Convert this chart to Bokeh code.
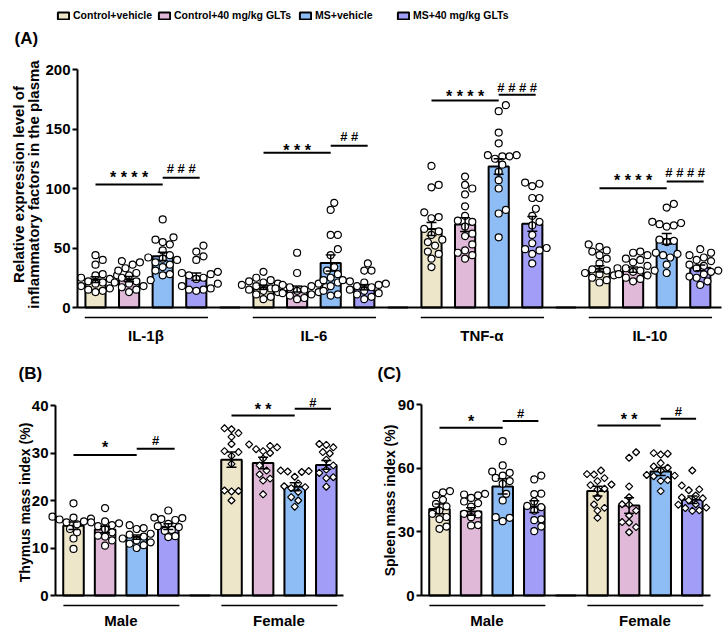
import math
from bokeh.plotting import figure
from bokeh.models import Range1d, FixedTicker, Label, Legend, LegendItem
from bokeh.layouts import column, row
from bokeh.embed import file_html
from bokeh.resources import INLINE
from bokeh.core.properties import value

# ---------------- data ----------------
TREATMENTS = ["Control+vehicle", "Control+40 mg/kg GLTs", "MS+vehicle", "MS+40 mg/kg GLTs"]
COLORS = ["#EDE6C9", "#E0B9D8", "#8DBDF4", "#A29DF7"]

# Panel A: plasma inflammatory factors
A_GROUPS = ["IL-1β", "IL-6", "TNF-α", "IL-10"]
A_TICKS = [0, 50, 100, 150, 200]
IL1B_MEAN = [23.5, 23.8, 43.0, 26.0]
IL1B_SEM = [2.4, 2.2, 3.4, 3.0]
IL6_MEAN = [17.0, 15.5, 37.4, 17.0]
IL6_SEM = [1.8, 2.5, 6.8, 2.2]
TNF_MEAN = [66.0, 69.7, 118.5, 70.3]
TNF_SEM = [5.5, 5.8, 6.5, 6.2]
IL10_MEAN = [32.5, 31.8, 57.6, 33.3]
IL10_SEM = [2.6, 2.2, 4.5, 2.4]
IL1B_PTS = [
    [44, 40, 36, 28, 27, 27, 25, 24, 22, 21, 20, 18, 16, 15, 14, 13],
    [39, 38, 36, 33, 31, 29, 27, 25, 23, 22, 21, 20, 18, 17, 15, 13],
    [74, 59, 57, 55, 53, 48, 44, 42, 41, 40, 38, 36, 34, 31, 28, 27],
    [52, 47, 43, 40, 30, 29, 28, 27, 25, 24, 20, 18, 16, 15, 15, 14],
]
IL6_PTS = [
    [30, 25, 23, 22, 21, 20, 19, 18, 17, 16, 15, 14, 13, 11, 9, 7],
    [46, 29, 20, 19, 18, 17, 17, 16, 15, 14, 13, 12, 11, 10, 8, 7],
    [88, 82, 61, 61, 49, 44, 34, 31, 28, 25, 23, 21, 18, 14, 11, 10],
    [37, 31, 31, 23, 22, 21, 20, 19, 18, 17, 15, 14, 12, 11, 9, 7],
]
TNF_PTS = [
    [119, 103, 101, 80, 76, 75, 66, 64, 61, 57, 55, 52, 47, 45, 41, 34],
    [110, 103, 100, 95, 85, 77, 73, 72, 68, 62, 60, 53, 48, 46, 44, 41],
    [170, 165, 147, 138, 128, 128, 127, 127, 125, 120, 114, 107, 100, 82, 79, 59],
    [105, 104, 102, 92, 92, 83, 77, 72, 69, 61, 54, 50, 49, 48, 45, 37],
]
IL10_PTS = [
    [53, 51, 48, 47, 44, 41, 37, 33, 32, 31, 29, 28, 27, 25, 23, 21],
    [47, 46, 44, 41, 40, 38, 35, 33, 31, 31, 30, 28, 27, 25, 24, 22],
    [87, 84, 72, 71, 70, 69, 68, 57, 56, 55, 46, 45, 44, 42, 36, 29],
    [49, 46, 44, 42, 40, 39, 36, 35, 33, 31, 30, 28, 26, 25, 22, 19],
]
# significance: (first bar, last bar, line level, marks, mark level) per group
A_SIG = [
    [(0, 2, 103.4, "* * * *", 112.6), (2, 3.1, 109.0, "# # #", 116.8)],
    [(0, 2, 130.0, "* * *", 135.3), (2, 3.1, 136.0, "# #", 143.7)],
    [(0, 2, 174.0, "* * * *", 180.9), (2, 3.1, 178.7, "# # # #", 184.9)],
    [(0, 2, 100.3, "* * * *", 110.3), (2, 3.1, 105.9, "# # # #", 113.2)],
]

# Panels B and C
SEX = ["Male", "Female"]
B_TICKS = [0, 10, 20, 30, 40]
THY_MALE_MEAN = [14.7, 13.9, 12.3, 14.5]
THY_MALE_SEM = [0.8, 0.7, 0.45, 0.6]
THY_FEMALE_MEAN = [28.6, 27.9, 22.9, 27.5]
THY_FEMALE_SEM = [1.6, 1.2, 0.85, 0.9]
THY_MALE_PTS = [
    [19.4, 16.6, 16.4, 16.2, 16.0, 15.6, 15.4, 15.0, 14.0, 13.3, 12.0, 9.8],
    [18.4, 15.6, 15.4, 15.2, 14.8, 14.6, 14.0, 13.3, 12.6, 12.4, 11.6, 10.5],
    [14.8, 14.2, 14.0, 13.0, 12.8, 12.4, 12.0, 11.6, 11.2, 10.9, 10.6, 10.0],
    [17.9, 16.4, 16.3, 16.1, 15.9, 15.1, 14.6, 14.4, 13.8, 13.6, 12.5, 12.3],
]
THY_FEMALE_PTS = [
    [35.2, 35.0, 34.2, 33.4, 31.9, 30.4, 30.2, 29.4, 27.7, 22.1, 22.0, 21.9, 20.0],
    [31.8, 31.5, 31.2, 30.8, 30.4, 30.0, 28.8, 27.4, 26.3, 25.5, 24.6, 24.2, 21.3],
    [26.3, 26.2, 26.1, 26.0, 25.0, 23.6, 23.0, 22.8, 22.6, 21.8, 20.7, 20.0, 18.7],
    [31.9, 31.7, 31.2, 30.2, 29.9, 28.6, 27.4, 26.5, 25.8, 24.9, 24.7, 22.9],
]
B_SIG = [
    [(0, 2, 29.6, "*", 31.9), (2, 3.2, 30.9, "#", 32.6)],
    [(0, 2, 37.9, "* *", 40.0), (2, 3.15, 39.3, "#", 40.6)],
]

C_TICKS = [0, 30, 60, 90]
SPL_MALE_MEAN = [40.8, 39.6, 51.4, 41.9]
SPL_MALE_SEM = [2.3, 1.8, 3.6, 2.8]
SPL_FEMALE_MEAN = [49.2, 42.4, 58.4, 45.1]
SPL_FEMALE_SEM = [2.3, 3.7, 1.9, 1.8]
SPL_MALE_PTS = [
    [49.2, 48.6, 47.3, 45.1, 43.2, 42.0, 40.0, 38.5, 37.0, 36.0, 32.5, 31.4],
    [47.9, 47.6, 47.2, 46.0, 44.3, 43.5, 41.9, 38.5, 38.2, 36.9, 33.2, 33.0],
    [72.7, 61.3, 58.4, 57.8, 56.5, 55.4, 53.9, 52.6, 47.9, 44.8, 36.9, 36.6, 35.0],
    [56.5, 54.7, 48.0, 47.8, 44.3, 42.2, 41.6, 40.0, 35.9, 35.5, 32.5, 30.3],
]
SPL_FEMALE_PTS = [
    [58.9, 57.2, 57.0, 55.3, 53.9, 52.3, 52.0, 50.3, 50.0, 46.3, 42.9, 41.3, 40.0, 36.6],
    [67.5, 64.9, 51.4, 46.3, 43.0, 42.8, 40.0, 37.7, 34.6, 34.4, 32.2, 29.8],
    [67.1, 66.8, 66.4, 62.4, 60.8, 60.2, 58.9, 56.8, 56.5, 56.2, 54.4, 54.0, 49.2],
    [58.9, 51.8, 50.0, 49.6, 47.1, 46.2, 45.8, 44.8, 43.0, 42.8, 41.4, 41.2, 40.1, 39.9],
]
C_SIG = [
    [(0, 2, 79.0, "*", 84.0), (2, 3.13, 82.2, "#", 85.9)],
    [(0, 2, 80.1, "* *", 84.8), (2, 3.12, 83.3, "#", 86.9)],
]

FONT = "Liberation Sans"


def swarm_offsets(vals, ppu, d, step):
    n = len(vals)
    order = sorted(range(n), key=lambda i: vals[i])
    cands = [0.0]
    for k in range(1, 14):
        cands += [k * step, -k * step]
    placed, offs = [], [0.0] * n
    for i in order:
        y = vals[i] * ppu
        chosen = cands[-1]
        for c in cands:
            if all((c - px) ** 2 + (y - py) ** 2 >= d * d for px, py in placed):
                chosen = c
                break
        placed.append((chosen, y))
        offs[i] = chosen
    return offs


def make_panel(W, H, slot_px, ppu, x_center0, y_zero, axis_x, axis_end_x, ymax, ticks,
               groups, means, sems, points, markers, sigs, bar_w, pt_size, swarm_d,
               label_px):
    # the frame is the whole canvas; axes are placed at fixed data locations
    x0 = -x_center0 / slot_px
    x1 = (W - x_center0) / slot_px
    y1 = y_zero / ppu
    y0 = -(H - y_zero) / ppu
    yaxis_loc = (axis_x - x_center0) / slot_px
    xaxis_end = (axis_end_x - x_center0) / slot_px

    p = figure(frame_width=W, frame_height=H,
               min_border_left=0, min_border_right=0, min_border_top=0, min_border_bottom=0,
               x_range=Range1d(x0, x1), y_range=Range1d(y0, y1),
               output_backend="svg", toolbar_location=None)
    p.outline_line_color = None
    p.grid.visible = False
    p.background_fill_color = "white"
    p.border_fill_color = "white"

    p.xaxis.fixed_location = 0
    p.xaxis.ticker = FixedTicker(ticks=[])
    p.xaxis.major_tick_line_color = None
    p.xaxis.minor_tick_line_color = None
    p.xaxis.major_label_text_font_size = "0px"
    p.xaxis.axis_line_width = 2
    p.xaxis.axis_line_color = "black"
    p.xaxis.bounds = (yaxis_loc, xaxis_end)

    yax = p.yaxis[0]
    yax.fixed_location = yaxis_loc
    yax.bounds = (0, ymax)
    yax.ticker = FixedTicker(ticks=ticks)
    yax.axis_line_width = 2
    yax.major_tick_line_width = 2
    yax.major_tick_out = 5
    yax.major_tick_in = 0
    yax.minor_tick_line_color = None
    yax.major_label_text_font = FONT
    yax.major_label_text_font_style = "bold"
    yax.major_label_text_font_size = "15px"
    yax.major_label_text_color = "black"
    yax.major_label_standoff = 2

    ng = len(groups)
    bar_renderers = []
    for j in range(4):
        xs = [g * 5 + j for g in range(ng)]
        tops = [means[g][j] for g in range(ng)]
        r = p.vbar(x=xs, top=tops, width=bar_w, fill_color=COLORS[j],
                   line_color="black", line_width=2)
        bar_renderers.append(r)
    # empty spacer columns between groups
    p.vbar(x=[g * 5 + 4 for g in range(ng - 1)], top=[0] * (ng - 1), width=bar_w,
           fill_color="black", line_color="black", line_width=2)

    for g in range(ng):
        for j in range(4):
            vals = points[g][j]
            offs = swarm_offsets(vals, ppu, swarm_d, swarm_d * 0.5)
            xs = [g * 5 + j + o / slot_px for o in offs]
            if markers[g] == "diamond":
                p.scatter(x=xs, y=vals, marker="square", angle=math.pi / 4, size=pt_size - 2,
                          fill_color="white", line_color="black", line_width=1.2)
            else:
                p.scatter(x=xs, y=vals, marker="circle", size=pt_size,
                          fill_color="white", line_color="black", line_width=1.2)

    cw = 5.0 / slot_px
    ex, lo, hi = [], [], []
    for g in range(ng):
        for j in range(4):
            ex.append(g * 5 + j)
            lo.append(means[g][j] - sems[g][j])
            hi.append(means[g][j] + sems[g][j])
    p.segment(x0=ex, y0=lo, x1=ex, y1=hi, line_color="black", line_width=1.5)
    p.segment(x0=[x - cw for x in ex], y0=hi, x1=[x + cw for x in ex], y1=hi,
              line_color="black", line_width=1.5)
    p.segment(x0=[x - cw for x in ex], y0=lo, x1=[x + cw for x in ex], y1=lo,
              line_color="black", line_width=1.5)

    for g in range(ng):
        for (a, b, ly, txt, ty) in sigs[g]:
            p.segment(x0=[g * 5 + a], y0=[ly], x1=[g * 5 + b], y1=[ly],
                      line_color="black", line_width=2)
            star = txt.startswith("*")
            p.text(x=[g * 5 + (a + b) / 2], y=[ty - (4.0 / ppu if star else 0.0)], text=[txt],
                   text_font=value(FONT), text_font_style="bold",
                   text_font_size="16px" if star else "13px",
                   text_align="center", text_baseline="middle", text_color="black")

    under_y = -10 / ppu
    label_y = -label_px / ppu
    p.segment(x0=[g * 5 - 0.32 for g in range(ng)], y0=[under_y] * ng,
              x1=[g * 5 + 3.35 for g in range(ng)], y1=[under_y] * ng,
              line_color="black", line_width=1.5)
    p.text(x=[g * 5 + 1.5 for g in range(ng)], y=[label_y] * ng, text=groups,
           text_font=value(FONT), text_font_style="bold", text_font_size="15px",
           text_align="center", text_baseline="middle", text_color="black")
    return p, bar_renderers


def screen_label(p, txt, x, y, size, align="left", angle=0.0):
    p.add_layout(Label(x=x, y=y, x_units="screen", y_units="screen", text=txt, angle=angle,
                       text_font=FONT, text_font_style="bold", text_font_size=size,
                       text_align=align, text_baseline="middle", text_color="black"))


# ---------------- panel A (canvas 728 x 345) ----------------
HA = 345
pA, bars = make_panel(
    W=728, H=HA, slot_px=33.6, ppu=238 / 200, x_center0=95, y_zero=307,
    axis_x=77, axis_end_x=721, ymax=200, ticks=A_TICKS, groups=A_GROUPS,
    means=[IL1B_MEAN, IL6_MEAN, TNF_MEAN, IL10_MEAN],
    sems=[IL1B_SEM, IL6_SEM, TNF_SEM, IL10_SEM],
    points=[IL1B_PTS, IL6_PTS, TNF_PTS, IL10_PTS],
    markers=["circle"] * 4, sigs=A_SIG, bar_w=0.6, pt_size=7, swarm_d=7.2, label_px=28)
screen_label(pA, "(A)", 14, HA - 38, "17px")
screen_label(pA, "Relative expression level of", 18, HA - 184, "15px", "center", math.pi / 2)
screen_label(pA, "inflammatory factors in the plasma", 33, HA - 184, "15px", "center", math.pi / 2)

# legend: one entry per treatment, placed where the reference has it
LEGEND_X = [56, 157, 298, 396]
for t, r, lx in zip(TREATMENTS, bars, LEGEND_X):
    lg = Legend(items=[LegendItem(label=t, renderers=[r])],
                orientation="horizontal", location=(lx, HA - 21),
                border_line_color=None, background_fill_alpha=0,
                padding=0, margin=0, spacing=0, glyph_width=14, glyph_height=9,
                label_standoff=3, label_height=12,
                label_text_font=FONT, label_text_font_style="bold",
                label_text_font_size="10.5px", label_text_color="black")
    pA.add_layout(lg)

# ---------------- panel B (canvas 364 x 289) ----------------
HB = 289
pB, _ = make_panel(
    W=364, H=HB, slot_px=31.6, ppu=190 / 40, x_center0=73, y_zero=595 - 345,
    axis_x=55, axis_end_x=343, ymax=40, ticks=B_TICKS, groups=SEX,
    means=[THY_MALE_MEAN, THY_FEMALE_MEAN], sems=[THY_MALE_SEM, THY_FEMALE_SEM],
    points=[THY_MALE_PTS, THY_FEMALE_PTS], markers=["circle", "diamond"],
    sigs=B_SIG, bar_w=0.65, pt_size=7, swarm_d=7.0, label_px=25)
screen_label(pB, "(B)", 18, HB - 28, "17px")
screen_label(pB, "Thymus mass index  (%)", 24, HB - 155, "14px", "center", math.pi / 2)

# ---------------- panel C (canvas 364 x 289) ----------------
pC, _ = make_panel(
    W=364, H=HB, slot_px=31.6, ppu=191 / 90, x_center0=439 - 364, y_zero=595 - 345,
    axis_x=421 - 364, axis_end_x=710 - 364, ymax=90, ticks=C_TICKS, groups=SEX,
    means=[SPL_MALE_MEAN, SPL_FEMALE_MEAN], sems=[SPL_MALE_SEM, SPL_FEMALE_SEM],
    points=[SPL_MALE_PTS, SPL_FEMALE_PTS], markers=["circle", "diamond"],
    sigs=C_SIG, bar_w=0.65, pt_size=7, swarm_d=7.0, label_px=25)
screen_label(pC, "(C)", 377 - 364, HB - 28, "17px")
screen_label(pC, "Spleen mass index (%)", 389 - 364, HB - 155, "14px", "center", math.pi / 2)

layout = column(pA, row(pB, pC))
open("out.html", "w").write(file_html(layout, INLINE))
